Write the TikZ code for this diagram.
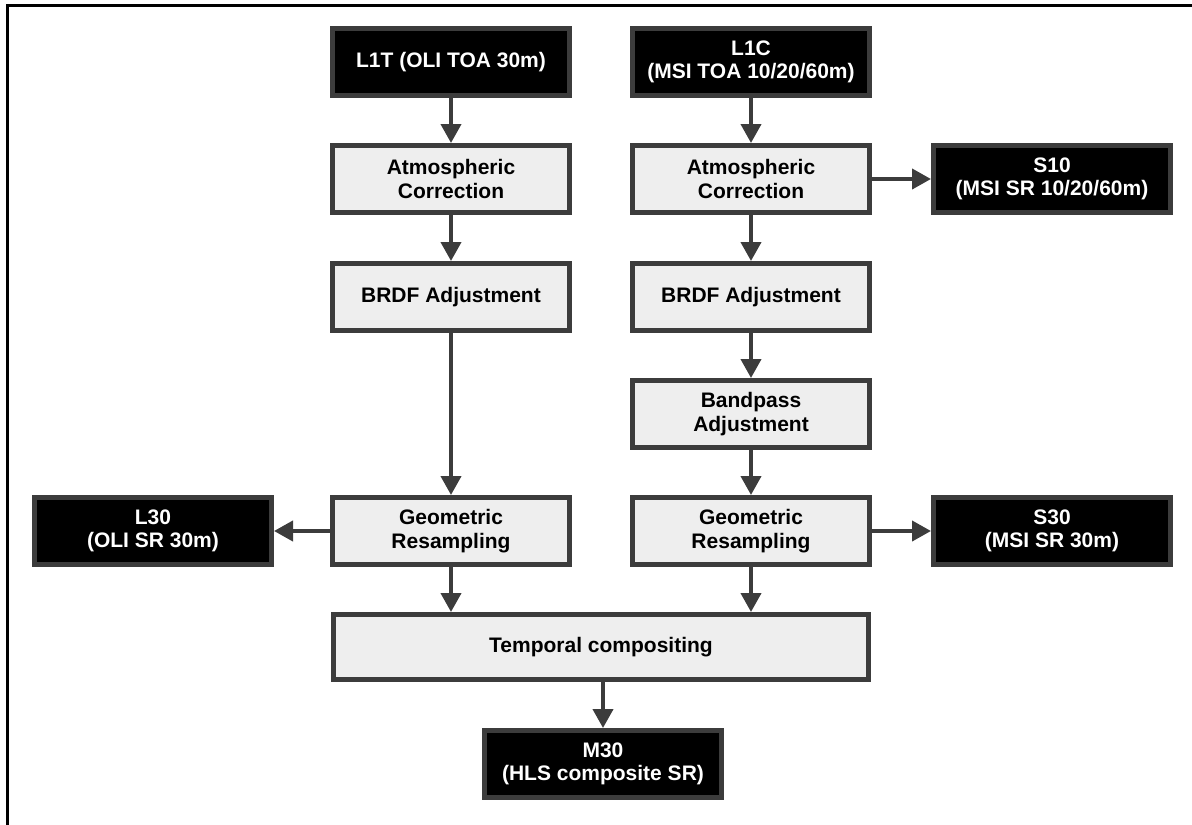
\documentclass[tikz,border=0pt]{standalone}
\usepackage{fontspec}
\setmainfont{Liberation Sans}
\usetikzlibrary{arrows.meta}
\definecolor{edge}{HTML}{3C3C3C}
\definecolor{boxfill}{HTML}{EEEEEE}
\tikzset{
  proc/.style={draw=edge, line width=5pt, fill=boxfill, text=black,
    minimum width=237pt, minimum height=67pt, inner sep=0pt,
    align=center, font=\fontsize{21}{23.5}\selectfont\bfseries},
  prod/.style={proc, fill=black, text=white},
  conn/.style={draw=edge, line width=4pt, -{Triangle[width=20pt,length=19pt]}},
}
\begin{document}
\begin{tikzpicture}[x=1pt,y=-1pt]
\useasboundingbox (0,0) rectangle (1192,825);
\draw[line width=3pt] (7,825) -- (7,5) -- (1192,5);

\node[prod] (l1t) at (451,62) {L1T (OLI TOA 30m)};
\node[prod] (l1c) at (751,62) {L1C\\(MSI TOA 10/20/60m)};
\node[proc] (atmL) at (451,179) {Atmospheric\\Correction};
\node[proc] (atmR) at (751,179) {Atmospheric\\Correction};
\node[prod] (s10) at (1052,179) {S10\\(MSI SR 10/20/60m)};
\node[proc] (brdfL) at (451,297) {BRDF Adjustment};
\node[proc] (brdfR) at (751,297) {BRDF Adjustment};
\node[proc] (band) at (751,414) {Bandpass\\Adjustment};
\node[proc] (geomL) at (451,531) {Geometric\\Resampling};
\node[proc] (geomR) at (751,531) {Geometric\\Resampling};
\node[prod] (l30) at (153,531) {L30\\(OLI SR 30m)};
\node[prod] (s30) at (1052,531) {S30\\(MSI SR 30m)};
\node[proc, minimum width=535pt, minimum height=65pt] (temp) at (601,647) {Temporal compositing};
\node[prod] (m30) at (603,764) {M30\\(HLS composite SR)};

\draw[conn] (l1t) -- (atmL);
\draw[conn] (atmL) -- (brdfL);
\draw[conn] (brdfL) -- (geomL);
\draw[conn] (l1c) -- (atmR);
\draw[conn] (atmR) -- (brdfR);
\draw[conn] (brdfR) -- (band);
\draw[conn] (band) -- (geomR);
\draw[conn] (atmR.east) -- (atmR.east -| s10.west);
\draw[conn] (geomL.west) -- (geomL.west -| l30.east);
\draw[conn] (geomR.east) -- (geomR.east -| s30.west);
\draw[conn] (geomL.south) -- (geomL.south |- temp.north);
\draw[conn] (geomR.south) -- (geomR.south |- temp.north);
\draw[conn] (m30.north |- temp.south) -- (m30.north);
\end{tikzpicture}
\end{document}
